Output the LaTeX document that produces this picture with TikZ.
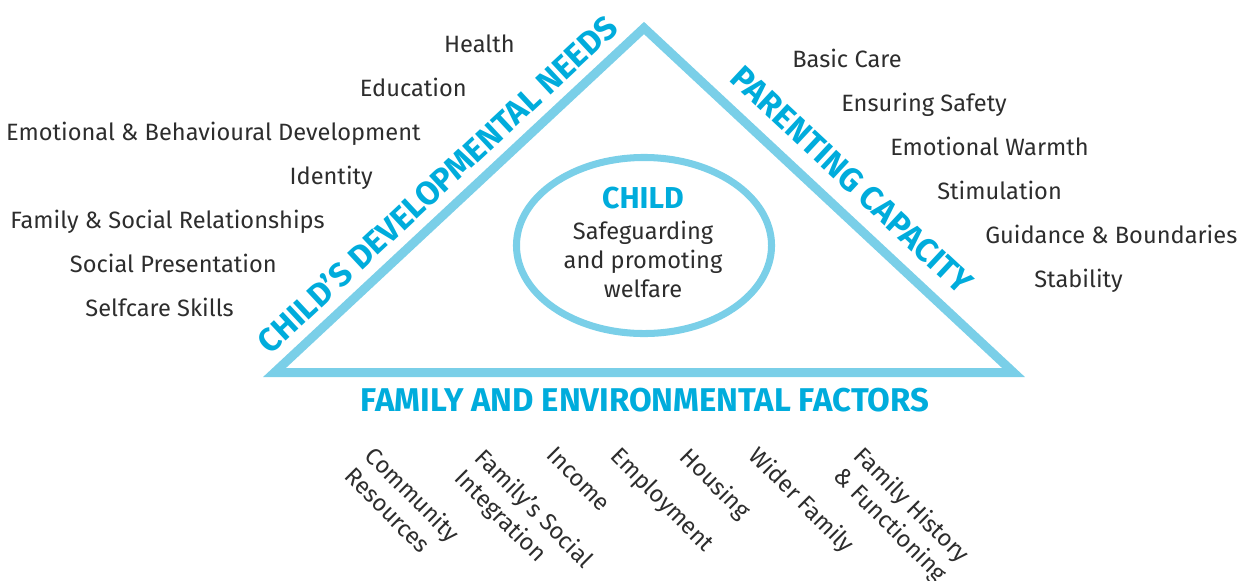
\documentclass[tikz,border=0pt]{standalone}
\usepackage{fontspec}
\setmainfont{Fira Sans}
\usepackage{tikz}
\usetikzlibrary{positioning}

\definecolor{rimblue}{RGB}{122,207,232}
\definecolor{titleblue}{RGB}{0,172,220}
\definecolor{textgrey}{RGB}{45,45,45}

\tikzset{
    needitem/.style={anchor=base east, inner sep=0pt, text=textgrey, font=\fontsize{16.8}{20.6}\selectfont},
    careitem/.style={anchor=base west, inner sep=0pt, text=textgrey, font=\fontsize{16.8}{20.6}\selectfont},
    factoritem/.style={anchor=north west, align=left, inner sep=0pt, text=textgrey, font=\fontsize{16.8}{20.6}\selectfont},
    sidetitle/.style={inner sep=0pt, text=titleblue, font=\fontsize{23.4}{26}\selectfont\bfseries}
}

\begin{document}
\begin{tikzpicture}[x=0.025cm, y=-0.025cm]
    \useasboundingbox (0,0) rectangle (1242,580);

    % Triangle
    \coordinate (apex) at (644,28);
    \coordinate (left) at (274.5,372.5);
    \coordinate (right) at (1013.5,372.5);
    \draw[rimblue, line width=6.4pt, line join=miter] (left) -- (apex) -- (right) -- cycle;

    % Child in the centre
    \draw[rimblue, line width=5pt] (644,245.5) ellipse [x radius=3.1875cm, y radius=2.2cm];
    \node[anchor=base, inner sep=0pt, text=titleblue, font=\fontsize{21.5}{24}\selectfont\bfseries] (child) at (643,208) {CHILD};
    \node[anchor=north, align=center, inner sep=0pt, text=textgrey, font=\fontsize{16.8}{20.6}\selectfont] (welfare) at (643,220.5) {Safeguarding\\and promoting\\welfare};

    % Side titles
    \node[rotate=43, sidetitle] (needs) at (437,184) {CHILD’S DEVELOPMENTAL NEEDS};
    \node[rotate=-43, sidetitle] (parenting) at (852,180) {PARENTING CAPACITY};
    \node[sidetitle] (family) at (645,400) {FAMILY AND ENVIRONMENTAL FACTORS};

    % Developmental needs
    \node[needitem] (health) at (515,52) {Health};
    \node[needitem] (education) at (467,96) {Education};
    \node[needitem] (emotional) at (421,140) {Emotional \& Behavioural Development};
    \node[needitem] (identity) at (373,184) {Identity};
    \node[needitem] (relations) at (325,228) {Family \& Social Relationships};
    \node[needitem] (presentation) at (277,272) {Social Presentation};
    \node[needitem] (selfcare) at (234,316) {Selfcare Skills};

    % Parenting capacity
    \node[careitem] (basic) at (792,67) {Basic Care};
    \node[careitem] (safety) at (841,111) {Ensuring Safety};
    \node[careitem] (warmth) at (890,155) {Emotional Warmth};
    \node[careitem] (stimulation) at (937,199) {Stimulation};
    \node[careitem] (guidance) at (985,243) {Guidance \& Boundaries};
    \node[careitem] (stability) at (1034,287) {Stability};

    % Family and environmental factors
    \node[rotate=-45, factoritem] (community) at (377,444) {Community\\Resources};
    \node[rotate=-45, factoritem] (integration) at (487,446) {Family’s Social\\Integration};
    \node[rotate=-45, factoritem] (income) at (557,445) {Income};
    \node[rotate=-45, factoritem] (employment) at (622,445) {Employment};
    \node[rotate=-45, factoritem] (housing) at (692,445) {Housing};
    \node[rotate=-45, factoritem] (wider) at (761,444) {Wider Family};
    \node[rotate=-45, factoritem] (history) at (866,444) {Family History\\\& Functioning};
\end{tikzpicture}
\end{document}
